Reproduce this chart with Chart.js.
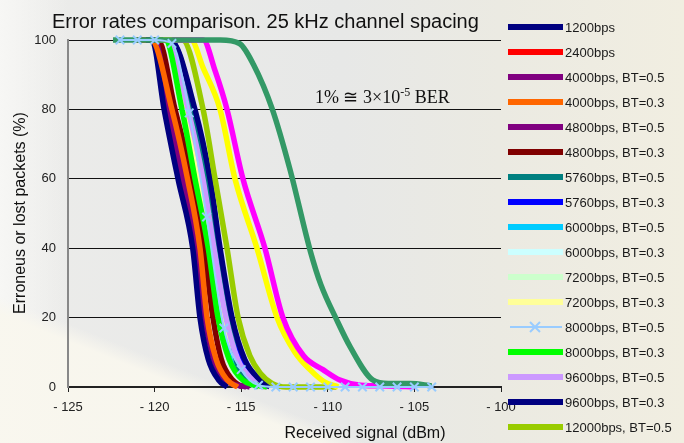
<!DOCTYPE html>
<html>
<head>
<meta charset="utf-8">
<script src="https://cdn.jsdelivr.net/npm/chart.js@4.4.0/dist/chart.umd.min.js"></script>
<style>
  html, body { margin: 0; padding: 0; }
  body {
    width: 684px; height: 443px; overflow: hidden;
    background:
      linear-gradient(201.8deg, rgba(0,0,0,0) 79.5%, rgba(249,247,238,0.92) 82%),
      linear-gradient(90deg, rgba(248,248,246,0.9) 0%, rgba(248,248,246,0) 10%),
      linear-gradient(90deg, #ececea 0%, #e7e8e7 50%, #ebeae2 73%, #f1eee1 100%);
  }
  #wrap { position: relative; width: 684px; height: 443px; }
</style>
</head>
<body>
<div id="wrap"><canvas id="chart"></canvas></div>
<script>
(function () {
    "use strict";

    const sansFont = "'Liberation Sans', Arial, sans-serif"
    const serifFont = "'Liberation Serif', 'Times New Roman', serif"

    // most curves are read at the same packet-loss levels (%)
    const levels = [100, 100, 80, 60, 40, 20, 8, 2, 0]

    // received signal (dBm) where each curve crosses those levels
    const dbm1200     = [-121.0, -120.15, -119.45, -118.65, -117.8, -117.38, -116.9, -116.3, -115.8]
    const dbm2400     = [-120.5, -119.1, -117.84, -116.97, -116.34, -115.65, -115.0, -114.3, -113.6]
    const dbm4000bt05 = [-121.0, -120.0, -119.2, -118.4, -117.55, -117.1, -116.6, -115.9, -114.7]
    const dbm4000bt03 = [-121.0, -120.2, -119.0, -118.1, -117.38, -116.97, -116.45, -115.8, -115.2]
    const dbm4800bt05 = [-121.0, -119.9, -119.1, -118.25, -117.45, -117.0, -116.5, -115.8, -114.5]
    const dbm4800bt03 = [-121.0, -119.8, -118.82, -117.84, -117.15, -116.63, -116.15, -115.5, -114.95]
    const dbm5760bt05 = [-120.5, -119.2, -117.96, -117.09, -116.45, -115.7, -115.3, -114.6, -114.0]
    const dbm5760bt03 = [-120.5, -119.1, -117.73, -116.86, -116.28, -115.59, -114.9, -114.1, -113.5]
    const dbm6000bt05 = [-120.5, -119.3, -118.3, -117.49, -116.69, -116.11, -115.5, -114.7, -114.0]
    const dbm6000bt03 = [-120.5, -119.2, -117.96, -117.03, -116.4, -115.65, -115.0, -114.0, -112.76]
    const dbm7200bt05 = [-120.5, -119.4, -118.36, -117.61, -116.74, -116.22, -115.6, -114.8, -114.15]
    const dbm7200bt03 = [-120.5, -119.3, -118.19, -117.38, -116.63, -115.99, -115.3, -114.5, -113.9]
    const dbm8000bt03 = [-120.5, -119.4, -118.42, -117.67, -116.9, -116.34, -115.7, -114.9, -113.5]
    const dbm9600bt05 = [-120.5, -119.2, -118.07, -117.21, -116.57, -115.88, -115.2, -114.3, -113.8]
    const dbm9600bt03 = [-120.5, -119.1, -117.67, -116.8, -116.22, -115.53, -114.8, -113.9, -113.34]

    // curves read with their own points
    const dbm8000bt05 = [-122, -121, -120, -119, -118, -117, -116, -115, -114, -113, -112, -111, -110, -109, -108, -107, -106, -105, -104]
    const pct8000bt05 = [100, 100, 100, 99, 79, 49, 17, 5, 0.5, 0, 0, 0, 0, 0, 0, 0, 0, 0, 0]

    const dbm12000bt05 = [-120.0, -118.4, -117.2, -116.51, -115.82, -115.18, -114.5, -113.9, -113.2, -112.4, -109.5]
    const pct12000bt05 = [100, 100, 80, 60, 40, 20, 9, 4, 1, 0, 0]

    const dbmYellow = [-119.5, -117.9, -117.2, -116.22, -115.36, -114.09, -112.93, -111.9, -111.03, -110.2, -109.4]
    const pctYellow = [100, 100, 92, 80, 60, 40, 20, 10, 5, 1.5, 0]

    const dbmMagenta = [-119.0, -117.2, -116.5, -115.82, -114.9, -113.63, -112.59, -111.4, -110.28, -109.3, -108.1, -106.5, -105.0]
    const pctMagenta = [100, 100, 91, 80, 60, 40, 20, 9, 5, 2, 0.5, 0.3, 0]

    const dbmSeaGreen = [-122.4, -116.2, -115.1, -114.3, -113.2, -112.2, -111.0, -110.4, -109.5, -108.7, -107.4, -106.5, -105.25, -104.0]
    const pctSeaGreen = [100, 100, 99, 93, 80, 63, 39, 29.5, 19.5, 11.5, 2, 1, 1, 0.3]

    const xTicks = [-125, -120, -115, -110, -105, -100]
    const yTicks = [0, 20, 40, 60, 80, 100]

    function pts(xs, ys) {
        return xs.map((x, i) => ({ x: x, y: ys[i] }))
    }

    function curve(label, color, xs, ys, order) {
        return {
            label: label,
            data: pts(xs, ys),
            borderColor: color,
            backgroundColor: color,
            borderWidth: 5.5,
            pointRadius: 0,
            cubicInterpolationMode: 'monotone',
            clip: false,
            order: order || 0
        }
    }

    const datasets = [
        curve('1200bps', '#000080', dbm1200, levels, 1),
        curve('2400bps', '#ff0000', dbm2400, levels, 4),
        curve('4000bps, BT=0.5', '#800080', dbm4000bt05, levels, 1),
        curve('4000bps, BT=0.3', '#ff6600', dbm4000bt03, levels, 0),
        curve('4800bps, BT=0.5', '#800080', dbm4800bt05, levels, 2),
        curve('4800bps, BT=0.3', '#800000', dbm4800bt03, levels, 1),
        curve('5760bps, BT=0.5', '#008080', dbm5760bt05, levels, 3),
        curve('5760bps, BT=0.3', '#0000ff', dbm5760bt03, levels, 3),
        curve('6000bps, BT=0.5', '#00ccff', dbm6000bt05, levels, 4),
        curve('6000bps, BT=0.3', '#ccffff', dbm6000bt03, levels, 3),
        curve('7200bps, BT=0.5', '#ccffcc', dbm7200bt05, levels, 4),
        curve('7200bps, BT=0.3', '#ffff99', dbm7200bt03, levels, 3),
        {
            label: '8000bps, BT=0.5',
            data: pts(dbm8000bt05, pct8000bt05),
            borderColor: '#99ccff',
            backgroundColor: '#99ccff',
            borderWidth: 2,
            pointStyle: 'crossRot',
            pointRadius: 6,
            pointBorderWidth: 2,
            cubicInterpolationMode: 'monotone',
            clip: false,
            order: -6
        },
        curve('8000bps, BT=0.3', '#00ff00', dbm8000bt03, levels, 0),
        curve('9600bps, BT=0.5', '#cc99ff', dbm9600bt05, levels, 0),
        curve('9600bps, BT=0.3', '#000080', dbm9600bt03, levels, -1),
        curve('12000bps, BT=0.5', '#99cc00', dbm12000bt05, pct12000bt05, -2),
        // rest of the legend is cut off in the picture
        curve('', '#ffff00', dbmYellow, pctYellow, -3),
        curve('', '#ff00ff', dbmMagenta, pctMagenta, -4),
        curve('', '#339966', dbmSeaGreen, pctSeaGreen, -5)
    ]

    // title, axis titles, note and the side legend
    const textPlugin = {
        id: 'texts',
        afterDraw(chart) {
            const ctx = chart.ctx
            ctx.save()
            ctx.fillStyle = '#111'
            ctx.textBaseline = 'alphabetic'
            ctx.textAlign = 'left'
            ctx.font = '20px ' + sansFont
            ctx.fillText('Error rates comparison. 25 kHz channel spacing', 52, 28)

            ctx.font = '16px ' + sansFont
            ctx.textAlign = 'center'
            ctx.textBaseline = 'middle'
            ctx.fillText('Received signal (dBm)', 365, 434)
            ctx.save()
            ctx.translate(21, 213)
            ctx.rotate(-Math.PI / 2)
            ctx.fillText('Erroneus or lost packets (%)', 0, 0)
            ctx.restore()

            // 1% ~ 3x10^-5 BER
            ctx.textAlign = 'left'
            ctx.textBaseline = 'alphabetic'
            ctx.font = '18px ' + serifFont
            let x = 315
            const base = 103
            const a = '1% \u2245 3\u00d710'
            ctx.fillText(a, x, base)
            x += ctx.measureText(a).width
            ctx.font = '12px ' + serifFont
            ctx.fillText('-5', x, base - 7)
            x += ctx.measureText('-5').width
            ctx.font = '18px ' + serifFont
            ctx.fillText(' BER', x, base)

            // legend
            ctx.font = '13px ' + sansFont
            ctx.textBaseline = 'middle'
            let row = 0
            chart.data.datasets.forEach(ds => {
                if (!ds.label) return
                const y = 27 + row * 25
                if (ds.pointStyle === 'crossRot') {
                    ctx.strokeStyle = ds.borderColor
                    ctx.lineWidth = 2
                    ctx.beginPath()
                    ctx.moveTo(510, y)
                    ctx.lineTo(562, y)
                    ctx.moveTo(530, y - 5)
                    ctx.lineTo(540, y + 5)
                    ctx.moveTo(540, y - 5)
                    ctx.lineTo(530, y + 5)
                    ctx.stroke()
                } else {
                    ctx.fillStyle = ds.borderColor
                    ctx.fillRect(508, y - 3, 55, 6)
                }
                ctx.fillStyle = '#1a1a1a'
                ctx.fillText(ds.label, 565, y + 1)
                row++
            })
            ctx.restore()
        }
    }

    new Chart(document.getElementById('chart'), {
        type: 'line',
        data: { datasets: datasets },
        plugins: [textPlugin],
        options: {
            responsive: true,
            maintainAspectRatio: false,
            animation: false,
            layout: { padding: { top: 40, right: 183, left: 0, bottom: 0 } },
            plugins: {
                legend: { display: false },
                title: { display: false },
                tooltip: { enabled: false }
            },
            scales: {
                x: {
                    type: 'linear',
                    min: xTicks[0],
                    max: xTicks[xTicks.length - 1],
                    afterBuildTicks: s => { s.ticks = xTicks.map(v => ({ value: v })) },
                    afterFit: s => { s.height = 56 },
                    ticks: {
                        color: '#222',
                        font: { family: sansFont, size: 13 },
                        padding: 8,
                        maxRotation: 0,
                        callback: v => (v < 0 ? '- ' + Math.abs(v) : '' + v)
                    },
                    grid: { drawOnChartArea: false, drawTicks: true, tickLength: 5, color: '#222' },
                    border: { color: '#222', width: 2 }
                },
                y: {
                    min: 0,
                    max: 100,
                    afterBuildTicks: s => { s.ticks = yTicks.map(v => ({ value: v })) },
                    afterFit: s => { s.width = 68 },
                    ticks: {
                        color: '#222',
                        font: { family: sansFont, size: 13 },
                        padding: 12
                    },
                    grid: { color: '#111', lineWidth: 1, drawTicks: false },
                    border: { color: '#888', width: 2 }
                }
            }
        }
    })
})();
</script>
</body>
</html>
